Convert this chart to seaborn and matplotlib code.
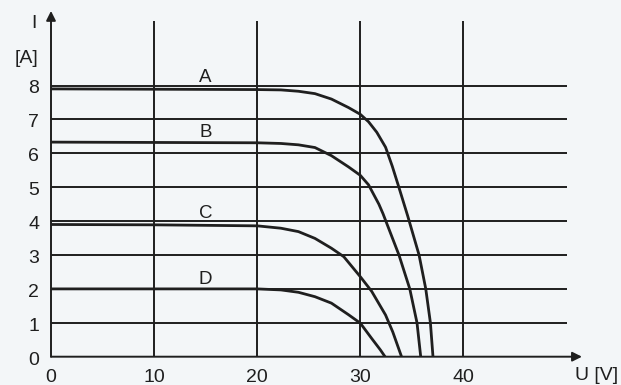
import pandas as pd
import seaborn as sns
import matplotlib.pyplot as plt

# I-U curves (U in V, I in A)
a_u = [0, 10, 20, 22.3, 24, 25.6, 27.2, 28.85, 30, 30.8, 31.6, 32.45, 33.1, 33.75, 34.6, 35.7, 36.35, 36.8, 37.05]
a_i = [7.9, 7.89, 7.88, 7.87, 7.83, 7.76, 7.6, 7.35, 7.15, 6.93, 6.62, 6.18, 5.62, 4.99, 4.15, 3.0, 2.0, 1.0, 0]
b_u = [0, 10, 20, 22.3, 24, 25.6, 27.2, 28.85, 30, 30.8, 31.8, 32.2, 33.75, 34.8, 35.5, 35.86]
b_i = [6.33, 6.32, 6.31, 6.29, 6.25, 6.17, 5.93, 5.6, 5.35, 5.07, 4.5, 4.22, 3.0, 2.0, 1.0, 0]
c_u = [0, 10, 20, 22.3, 24, 25.6, 27.2, 28.4, 30, 31.1, 32.45, 33.15, 34.0]
c_i = [3.9, 3.89, 3.86, 3.79, 3.69, 3.49, 3.2, 2.95, 2.36, 1.93, 1.23, 0.73, 0]
d_u = [0, 10, 20, 22.3, 24, 25.6, 27.2, 28.85, 30, 31.1, 31.95, 32.4]
d_i = [2.0, 2.0, 2.0, 1.97, 1.9, 1.77, 1.58, 1.24, 0.99, 0.54, 0.2, 0]

curve_names = ['A', 'B', 'C', 'D']
label_u = [15, 15, 15, 15]
label_i = [8.25, 6.6, 4.22, 2.29]

u_ticks = [0, 10, 20, 30, 40]
i_ticks = [0, 1, 2, 3, 4, 5, 6, 7, 8]

rows = []
for name, us, is_ in zip(curve_names, [a_u, b_u, c_u, d_u], [a_i, b_i, c_i, d_i]):
    for u, i in zip(us, is_):
        rows.append({'curve': name, 'U': u, 'I': i})
df = pd.DataFrame(rows)

sns.set_style('white')
plt.rcParams['font.family'] = ['Liberation Sans', 'DejaVu Sans']

ink = '#1f1f1f'
fig = plt.figure(figsize=(6.21, 3.85), dpi=100, facecolor='#f3f6f8')
ax = fig.add_axes([51 / 621, 1 - 356.7 / 385, 52 * 10.31 / 621, 10.4 * 33.9 / 385])
ax.set_facecolor('none')
ax.set_xlim(0, 52)
ax.set_ylim(0, 10.4)
for s in ax.spines.values():
    s.set_visible(False)
ax.set_xticks([])
ax.set_yticks([])

# grid
ax.hlines(i_ticks[1:], 0, 50, color=ink, lw=1.4, zorder=1)
ax.vlines(u_ticks[1:], 0, 9.9, color=ink, lw=1.4, zorder=1)

# axes with arrows
ax.annotate('', xy=(51.5, 0), xytext=(0, 0), annotation_clip=False,
            arrowprops=dict(arrowstyle='-|>', color=ink, lw=1.4, mutation_scale=14, shrinkA=0, shrinkB=0))
ax.annotate('', xy=(0, 10.2), xytext=(0, 0), annotation_clip=False,
            arrowprops=dict(arrowstyle='-|>', color=ink, lw=1.4, mutation_scale=14, shrinkA=0, shrinkB=0))

sns.lineplot(data=df, x='U', y='I', units='curve', estimator=None, sort=False,
             color=ink, lw=2.0, ax=ax, zorder=3)
ax.set_xlabel('')
ax.set_ylabel('')

for name, u, i in zip(curve_names, label_u, label_i):
    ax.text(u, i, name, ha='center', va='center', fontsize=13.5, color=ink)

for u in u_ticks:
    ax.text(u, -0.6, str(u), ha='center', va='center', fontsize=14, color=ink, clip_on=False)
for i in i_ticks:
    ax.text(-1.16, i - 0.1, str(i), ha='right', va='center', fontsize=14, color=ink, clip_on=False)

ax.text(-1.68, 9.84, 'I', ha='center', va='center', fontsize=14, color=ink, clip_on=False)
ax.text(-2.36, 8.81, '[A]', ha='center', va='center', fontsize=14, color=ink, clip_on=False)
ax.text(52.95, -0.54, 'U [V]', ha='center', va='center', fontsize=14, color=ink, clip_on=False)

fig.savefig('out.png', dpi=100, facecolor=fig.get_facecolor())
